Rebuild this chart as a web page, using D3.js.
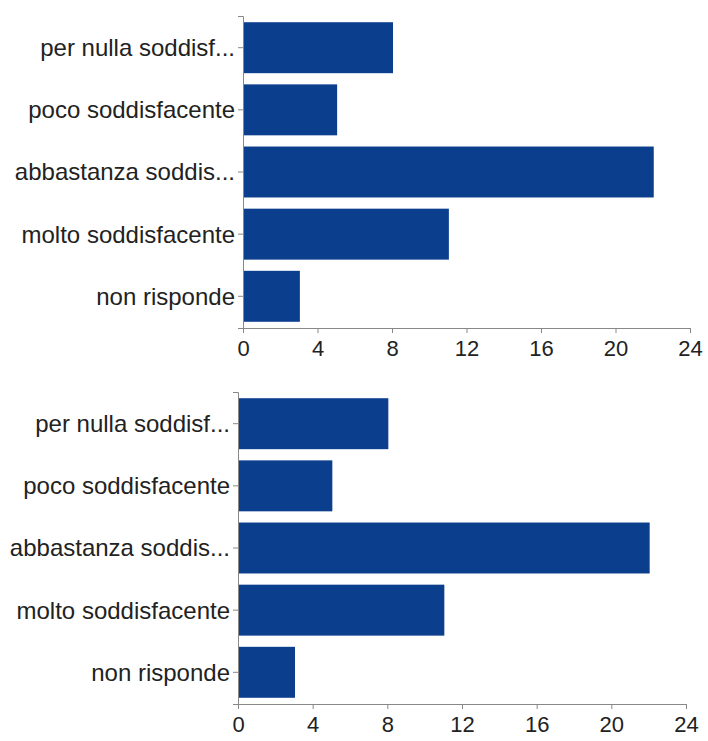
<!DOCTYPE html>
<html><head><meta charset="utf-8">
<script src="https://cdn.jsdelivr.net/npm/d3@7"></script>
<style>body{margin:0;background:#fff}svg{display:block}</style>
</head><body>
<script>
const categories = ["per nulla soddisf...","poco soddisfacente","abbastanza soddis...","molto soddisfacente","non risponde"];
const valuesTop = [8, 5, 22, 11, 3];
const valuesBottom = [8, 5, 22, 11, 3];
const xTicks = [0, 4, 8, 12, 16, 20, 24];

const W = 708, H = 741;
const svg = d3.select("body").append("svg").attr("width", W).attr("height", H);

function drawChart(values, x0, x1, y0, y1) {
  const x = d3.scaleLinear().domain([0, 24]).range([x0, x1]);
  const y = d3.scaleBand().domain(categories).range([y0, y1]).paddingInner(0.18).paddingOuter(0.1);
  const g = svg.append("g");
  g.selectAll("rect").data(values).join("rect")
    .attr("x", x(0) + 1).attr("y", (d, i) => y(categories[i]))
    .attr("width", d => x(d) - x(0)).attr("height", y.bandwidth())
    .attr("fill", "#0c3e8e");
  const yAxis = g.append("g").attr("transform", `translate(${x0},0)`)
    .call(d3.axisLeft(y).tickSize(5).tickPadding(3));
  yAxis.selectAll("text").attr("font-family", "Liberation Sans, Arial, sans-serif").attr("font-size", 24).attr("fill", "#222").attr("dy", "0.35em");
  const xAxis = g.append("g").attr("transform", `translate(0,${y1})`)
    .call(d3.axisBottom(x).tickValues(xTicks).tickSize(5).tickPadding(7));
  xAxis.selectAll("text").attr("font-family", "Liberation Sans, Arial, sans-serif").attr("font-size", 22).attr("fill", "#222");
  g.selectAll(".domain, .tick line").attr("stroke", "#888");
}

drawChart(valuesTop, 243, 690, 16, 328);
drawChart(valuesBottom, 238, 686, 392, 704);
</script>
</body></html>
